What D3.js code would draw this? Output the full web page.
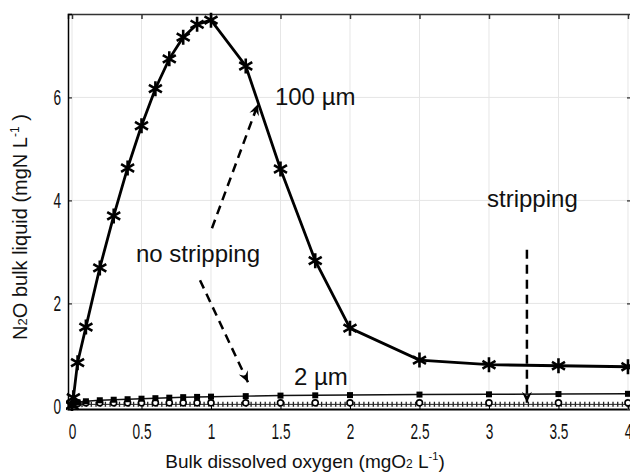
<!DOCTYPE html>
<html>
<head>
<meta charset="utf-8">
<script src="https://cdn.jsdelivr.net/npm/d3@7"></script>
<style>
  body { margin: 0; background: #fff; }
  svg { font-family: "Liberation Sans", Arial, sans-serif; }
</style>
</head>
<body>
<svg width="630" height="475"></svg>
<script>
// x values of the simulations (bulk DO, mgO2/L)
var do_values = [0, 0.01, 0.04, 0.1, 0.2, 0.3, 0.4, 0.5, 0.6, 0.7, 0.8, 0.9, 1.0, 1.25, 1.5, 1.75, 2, 2.5, 3, 3.5, 4];
// N2O in bulk, 100 um biofilm (no stripping)
var n2o_100um = [0.02, 0.17, 0.85, 1.54, 2.69, 3.70, 4.63, 5.45, 6.17, 6.75, 7.17, 7.42, 7.50, 6.61, 4.61, 2.83, 1.52, 0.90, 0.81, 0.79, 0.77];
// 2 um
var n2o_2um = [0.02, 0.05, 0.08, 0.10, 0.12, 0.13, 0.14, 0.15, 0.16, 0.17, 0.18, 0.185, 0.19, 0.20, 0.21, 0.215, 0.22, 0.23, 0.235, 0.24, 0.245];
// stripping runs, almost zero
var n2o_strip = [0.01, 0.02, 0.03, 0.04, 0.04, 0.04, 0.04, 0.04, 0.04, 0.04, 0.04, 0.04, 0.04, 0.04, 0.04, 0.04, 0.04, 0.04, 0.04, 0.04, 0.04];

var x_ticks = [0, 0.5, 1, 1.5, 2, 2.5, 3, 3.5, 4];
var y_ticks = [0, 2, 4, 6];

var labels = [
    { text: "100 µm", x: 1.46, y: 5.85 },
    { text: "stripping", x: 2.986, y: 3.87 },
    { text: "no stripping", x: 0.46, y: 2.80 },
    { text: "2 µm", x: 1.597, y: 0.42 }
];
var arrows = [
    { x1: 1.007, y1: 3.46, x2: 1.338, y2: 5.87 },
    { x1: 0.921, y1: 2.45, x2: 1.266, y2: 0.47 },
    { x1: 3.273, y1: 3.04, x2: 3.273, y2: 0.07 }
];

var margin = { top: 14, left: 68 };
var plot_width = 564;
var plot_height = 395;

const xscale = d3.scaleLinear().domain([-0.0288, 4.029]).range([0, plot_width]);
const yscale = d3.scaleLinear().domain([-0.05, 7.62]).range([plot_height, 0]);

var svg = d3.select("svg");

var defs = svg.append("defs");
defs.append("clipPath").attr("id", "plotclip")
    .append("rect").attr("x", -2).attr("y", -2)
    .attr("width", plot_width + 4).attr("height", plot_height + 4);
defs.append("marker")
    .attr("id", "head")
    .attr("viewBox", "-12 -6 14 12")
    .attr("refX", 0).attr("refY", 0)
    .attr("markerWidth", 14).attr("markerHeight", 12)
    .attr("markerUnits", "userSpaceOnUse")
    .attr("orient", "auto")
    .append("path")
    .attr("d", "M0,0 L-11,-5 L-7,0 L-11,5 Z")
    .attr("fill", "#000");

var g = svg.append("g")
    .attr("transform", `translate(${margin.left}, ${margin.top})`);

// grid
g.append("g").selectAll("line").data(x_ticks).enter().append("line")
    .attr("x1", d => xscale(d)).attr("x2", d => xscale(d))
    .attr("y1", 0).attr("y2", plot_height)
    .attr("stroke", "#e6e6e6").attr("stroke-width", 1);
g.append("g").selectAll("line").data(y_ticks).enter().append("line")
    .attr("x1", 0).attr("x2", plot_width)
    .attr("y1", d => yscale(d)).attr("y2", d => yscale(d))
    .attr("stroke", "#e6e6e6").attr("stroke-width", 1);

// axes
const xAxis = d3.axisBottom(xscale).tickValues(x_ticks).tickSize(-5).tickPadding(14)
    .tickFormat(d3.format("~g"));
var gx = g.append("g").attr("transform", `translate(0, ${plot_height})`).call(xAxis);
gx.select(".domain").attr("stroke", "#000").attr("stroke-width", 2);
gx.selectAll("text").attr("font-size", 22).attr("font-family", "Liberation Sans, Arial")
    .attr("transform", "scale(0.62,1)").attr("fill", "#111");

const xTop = d3.axisTop(xscale).tickValues(x_ticks).tickSize(-5).tickFormat("");
var gt = g.append("g").call(xTop);
gt.select(".domain").attr("stroke", "#333").attr("stroke-width", 1.5);
gt.selectAll(".tick line").attr("stroke", "#333").attr("stroke-width", 1.5);

const yAxis = d3.axisLeft(yscale).tickValues(y_ticks).tickSize(-4).tickPadding(8);
var gy = g.append("g").call(yAxis);
gy.select(".domain").attr("stroke", "#000").attr("stroke-width", 1.5);
gy.selectAll("text").attr("font-size", 22).attr("font-family", "Liberation Sans, Arial")
    .attr("transform", "scale(0.62,1)").attr("x", -7 / 0.62).attr("fill", "#111");

const yRight = d3.axisRight(yscale).tickValues(y_ticks).tickSize(-5).tickFormat("");
var gr = g.append("g").attr("transform", `translate(${plot_width}, 0)`).call(yRight);
gr.select(".domain").attr("stroke", "#333");

// series
var data_g = g.append("g").attr("clip-path", "url(#plotclip)");
var points = function (vals) {
    return do_values.map(function (d, i) { return { x: d, y: vals[i] }; });
};
var line = d3.line().x(d => xscale(d.x)).y(d => yscale(d.y));

// stripping (ticked dotted line + open circles)
data_g.append("path").datum(points(n2o_strip)).attr("d", line)
    .attr("fill", "none").attr("stroke", "#222").attr("stroke-width", 1);
data_g.append("path").datum(points(n2o_strip)).attr("d", line)
    .attr("fill", "none").attr("stroke", "#222").attr("stroke-width", 5)
    .attr("stroke-dasharray", "1.3,3.4");
data_g.append("g").selectAll("circle").data(points(n2o_strip)).enter().append("circle")
    .attr("cx", d => xscale(d.x)).attr("cy", d => yscale(d.y) - 1.5)
    .attr("r", 3).attr("fill", "#fff").attr("stroke", "#000").attr("stroke-width", 1.6);

// 2 um
data_g.append("path").datum(points(n2o_2um)).attr("d", line)
    .attr("fill", "none").attr("stroke", "#111").attr("stroke-width", 1.5);
data_g.append("g").selectAll("rect").data(points(n2o_2um)).enter().append("rect")
    .attr("x", d => xscale(d.x) - 3).attr("y", d => yscale(d.y) - 3)
    .attr("width", 6).attr("height", 6).attr("fill", "#000");

// 100 um
data_g.append("path").datum(points(n2o_100um)).attr("d", line)
    .attr("fill", "none").attr("stroke", "#000").attr("stroke-width", 2.8);
var star = "M0,-7.5V7.5M-6.5,-3.8L6.5,3.8M-6.5,3.8L6.5,-3.8";
data_g.append("g").selectAll("path").data(points(n2o_100um)).enter().append("path")
    .attr("transform", d => `translate(${xscale(d.x)}, ${yscale(d.y)})`)
    .attr("d", star).attr("stroke", "#000").attr("stroke-width", 2.6).attr("fill", "none");

// annotations
g.append("g").selectAll("line").data(arrows).enter().append("line")
    .attr("x1", d => xscale(d.x1)).attr("y1", d => yscale(d.y1))
    .attr("x2", d => xscale(d.x2)).attr("y2", d => yscale(d.y2))
    .attr("stroke", "#000").attr("stroke-width", 2.5)
    .attr("stroke-dasharray", "9,6")
    .attr("marker-end", "url(#head)");

g.append("g").selectAll("text").data(labels).enter().append("text")
    .attr("x", d => xscale(d.x)).attr("y", d => yscale(d.y))
    .attr("font-size", 24).attr("fill", "#111")
    .text(d => d.text);

// axis titles
var xt = svg.append("text").attr("x", 305).attr("y", 468)
    .attr("text-anchor", "middle").attr("font-size", 19).attr("fill", "#111");
xt.append("tspan").text("Bulk dissolved oxygen (mgO");
xt.append("tspan").attr("font-size", 12).text("2");
xt.append("tspan").text(" L");
xt.append("tspan").attr("font-size", 11).attr("dy", -8).text("-1");
xt.append("tspan").attr("dy", 8).text(")");

var yt = svg.append("text").attr("transform", "translate(27, 227) rotate(-90)")
    .attr("text-anchor", "middle").attr("font-size", 20).attr("fill", "#111");
yt.append("tspan").text("N");
yt.append("tspan").attr("font-size", 13).text("2");
yt.append("tspan").text("O bulk liquid (mgN L");
yt.append("tspan").attr("font-size", 12).attr("dy", -8).text("-1");
yt.append("tspan").attr("dy", 8).text(" )");
</script>
</body>
</html>
